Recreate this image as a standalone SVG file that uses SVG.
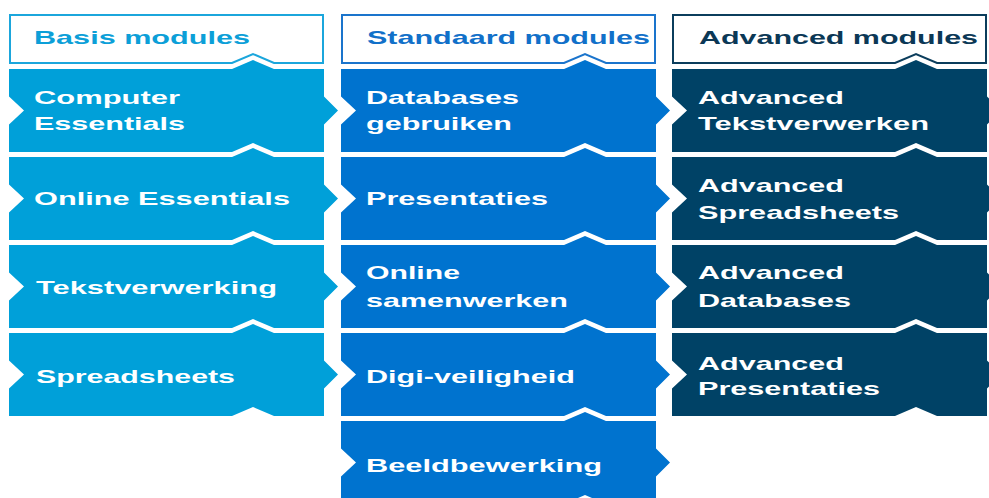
<svg xmlns="http://www.w3.org/2000/svg" xmlns:xlink="http://www.w3.org/1999/xlink" width="989" height="498" viewBox="0 0 989 498">
<style>
text{font-family:"Liberation Sans",Arial,sans-serif;font-weight:bold;font-size:19px}
.lbl{fill:#ffffff}
.c1{fill:#00a0d9}
.c2{fill:#0073cf}
.c3{fill:#004266}
.h{fill:#ffffff;stroke-width:2}
.h1{stroke:#1ba6dc}
.h2{stroke:#1a74cc}
.h3{stroke:#0b3d5c}
.t1{fill:#0c9fd8}
.t2{fill:#1170c9}
.t3{fill:#0b3856}
</style>
<defs>
<path id="cell" d="M0,0 H223 L244,-9 L265,0 H315 V27.5 L329,41.5 L315,55.5 V83 H265 L244,74 L223,83 H0 V55.5 L15,41.5 L0,27.5 Z"/>
<path id="head" d="M1,0 H314 V48 H265 L244,39 L223,48 H1 Z"/>
</defs>
<rect width="989" height="498" fill="#ffffff"/>

<g id="header-basis">
<use xlink:href="#head" class="h h1" transform="translate(9,15)"/>
<text class="t1" x="34" y="44" textLength="216" lengthAdjust="spacingAndGlyphs">Basis modules</text>
</g>
<g id="header-standaard">
<use xlink:href="#head" class="h h2" transform="translate(341,15)"/>
<text class="t2" x="367" y="44" textLength="283" lengthAdjust="spacingAndGlyphs">Standaard modules</text>
</g>
<g id="header-advanced">
<use xlink:href="#head" class="h h3" transform="translate(672,15)"/>
<text class="t3" x="699" y="44" textLength="279" lengthAdjust="spacingAndGlyphs">Advanced modules</text>
</g>

<g id="computer-essentials">
<use xlink:href="#cell" class="c1" transform="translate(9,69)"/>
<text class="lbl" x="34" y="104" textLength="146" lengthAdjust="spacingAndGlyphs">Computer</text>
<text class="lbl" x="34" y="130" textLength="151" lengthAdjust="spacingAndGlyphs">Essentials</text>
</g>
<g id="online-essentials">
<use xlink:href="#cell" class="c1" transform="translate(9,157)"/>
<text class="lbl" x="34" y="205" textLength="256" lengthAdjust="spacingAndGlyphs">Online Essentials</text>
</g>
<g id="tekstverwerking">
<use xlink:href="#cell" class="c1" transform="translate(9,245)"/>
<text class="lbl" x="36" y="294" textLength="241" lengthAdjust="spacingAndGlyphs">Tekstverwerking</text>
</g>
<g id="spreadsheets">
<use xlink:href="#cell" class="c1" transform="translate(9,333)"/>
<text class="lbl" x="36" y="383" textLength="199" lengthAdjust="spacingAndGlyphs">Spreadsheets</text>
</g>

<g id="databases-gebruiken">
<use xlink:href="#cell" class="c2" transform="translate(341,69)"/>
<text class="lbl" x="366" y="104" textLength="153" lengthAdjust="spacingAndGlyphs">Databases</text>
<text class="lbl" x="366" y="130" textLength="146" lengthAdjust="spacingAndGlyphs">gebruiken</text>
</g>
<g id="presentaties">
<use xlink:href="#cell" class="c2" transform="translate(341,157)"/>
<text class="lbl" x="366" y="205" textLength="182" lengthAdjust="spacingAndGlyphs">Presentaties</text>
</g>
<g id="online-samenwerken">
<use xlink:href="#cell" class="c2" transform="translate(341,245)"/>
<text class="lbl" x="366" y="279" textLength="94" lengthAdjust="spacingAndGlyphs">Online</text>
<text class="lbl" x="366" y="307" textLength="202" lengthAdjust="spacingAndGlyphs">samenwerken</text>
</g>
<g id="digi-veiligheid">
<use xlink:href="#cell" class="c2" transform="translate(341,333)"/>
<text class="lbl" x="366" y="383" textLength="209" lengthAdjust="spacingAndGlyphs">Digi-veiligheid</text>
</g>
<g id="beeldbewerking">
<use xlink:href="#cell" class="c2" transform="translate(341,421)"/>
<text class="lbl" x="366" y="472" textLength="236" lengthAdjust="spacingAndGlyphs">Beeldbewerking</text>
</g>

<g id="advanced-tekstverwerken">
<use xlink:href="#cell" class="c3" transform="translate(672,69)"/>
<text class="lbl" x="698" y="104" textLength="146" lengthAdjust="spacingAndGlyphs">Advanced</text>
<text class="lbl" x="698" y="130" textLength="231" lengthAdjust="spacingAndGlyphs">Tekstverwerken</text>
</g>
<g id="advanced-spreadsheets">
<use xlink:href="#cell" class="c3" transform="translate(672,157)"/>
<text class="lbl" x="698" y="192" textLength="146" lengthAdjust="spacingAndGlyphs">Advanced</text>
<text class="lbl" x="698" y="219" textLength="201" lengthAdjust="spacingAndGlyphs">Spreadsheets</text>
</g>
<g id="advanced-databases">
<use xlink:href="#cell" class="c3" transform="translate(672,245)"/>
<text class="lbl" x="698" y="279" textLength="146" lengthAdjust="spacingAndGlyphs">Advanced</text>
<text class="lbl" x="698" y="307" textLength="153" lengthAdjust="spacingAndGlyphs">Databases</text>
</g>
<g id="advanced-presentaties">
<use xlink:href="#cell" class="c3" transform="translate(672,333)"/>
<text class="lbl" x="698" y="370" textLength="146" lengthAdjust="spacingAndGlyphs">Advanced</text>
<text class="lbl" x="698" y="395" textLength="182" lengthAdjust="spacingAndGlyphs">Presentaties</text>
</g>
</svg>
